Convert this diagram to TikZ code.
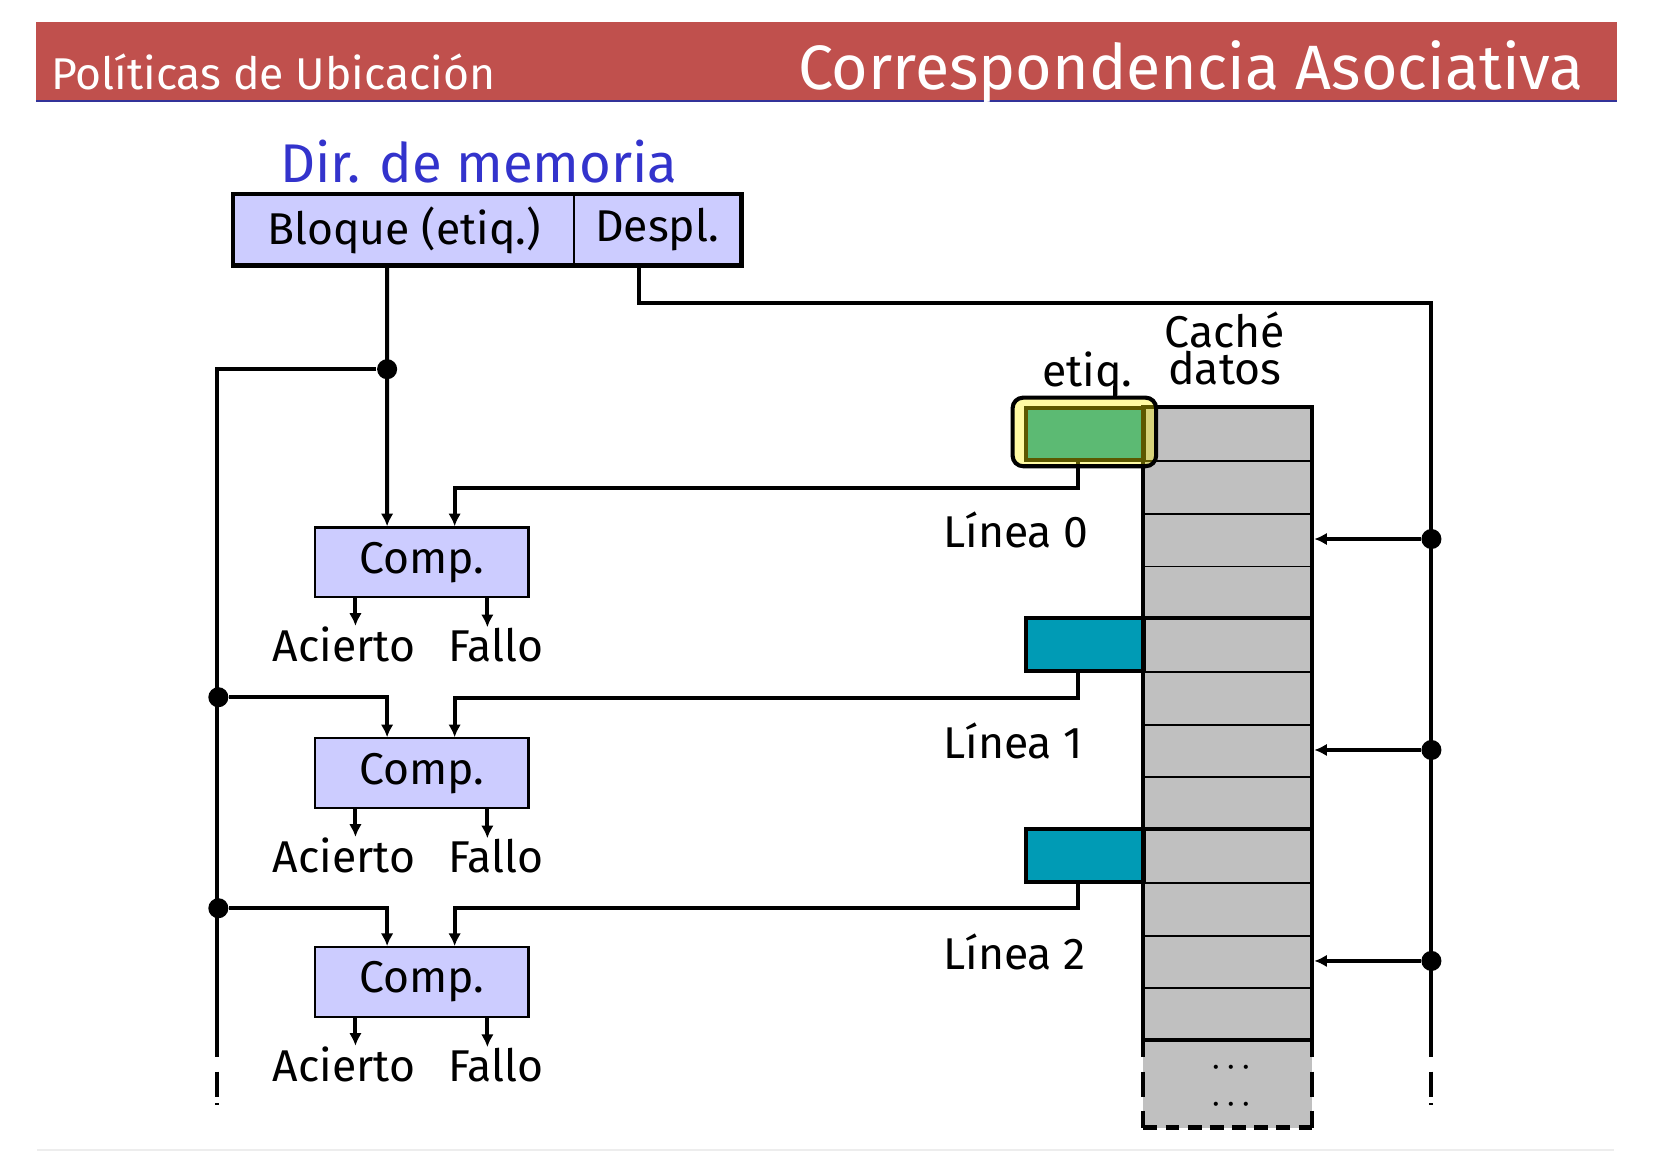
\documentclass[tikz,border=0pt]{standalone}
\usepackage{fontspec}
\setmainfont{Fira Sans}
\usetikzlibrary{arrows.meta}

\definecolor{barred}{RGB}{192,80,77}
\definecolor{barline}{RGB}{51,51,153}
\definecolor{dirblue}{RGB}{51,51,204}
\definecolor{lilac}{RGB}{204,204,255}
\definecolor{tagteal}{RGB}{0,155,181}
\definecolor{cachegray}{RGB}{192,192,192}

\begin{document}
\begin{tikzpicture}
        [x=0.01cm, y=-0.01cm, inner sep=0pt,
        wire/.style={line width=1.1pt, black},
        flow/.style={wire, -{Latex[length=1.2mm, width=1.2mm]}},
        field/.style={draw, line width=0.6pt, fill=lilac, minimum height=0.66cm, font=\fontsize{12}{14}\selectfont},
        comp/.style={draw, line width=0.6pt, fill=lilac, minimum width=2.02cm, minimum height=0.66cm, font=\fontsize{12}{14}\selectfont},
        tag/.style={draw, line width=1.1pt, fill=tagteal, minimum width=1.11cm, minimum height=0.5cm},
        joint/.style={circle, fill=black, minimum size=0.19cm},
        lbl/.style={font=\fontsize{12}{14}\selectfont},
        row/.style={line width=0.5pt, black},
        rowbig/.style={line width=1.1pt, black}]

        \useasboundingbox (0,0) rectangle (1568,1092);

        % header bar
        \fill[barred] (34,21) rectangle (1533,95);
        \draw[barline, line width=0.6pt] (34,96) -- (1533,96);
        \node[anchor=base west, text=white, font=\fontsize{12}{14}\selectfont] (place) at (48,85) {Políticas de Ubicación};
        \node[anchor=base east, text=white, font=\fontsize{16.9}{20}\selectfont] (title) at (1502,85) {Correspondencia Asociativa};

        % memory address
        \node[anchor=base, text=dirblue, font=\fontsize{14.7}{17}\selectfont] (addr) at (454,173) {Dir. de memoria};
        \node[field, minimum width=3.22cm] (blq) at (383,218) {Bloque (etiq.)};
        \node[field, minimum width=1.58cm] (dsp) at (623,218) {Despl.};
        \draw[line width=1.3pt] (blq.north west) rectangle (dsp.south east);

        % comparators
        \node[comp] (comp0) at (400,533) {Comp.};
        \node[comp] (comp1) at (400,733) {Comp.};
        \node[comp] (comp2) at (400,931) {Comp.};

        \node[lbl, anchor=base] (hit0) at (326,627) {Acierto};
        \node[lbl, anchor=base] (miss0) at (470,627) {Fallo};
        \node[lbl, anchor=base] (hit1) at (326,827) {Acierto};
        \node[lbl, anchor=base] (miss1) at (470,827) {Fallo};
        \node[lbl, anchor=base] (hit2) at (326,1025) {Acierto};
        \node[lbl, anchor=base] (miss2) at (470,1025) {Fallo};

        \draw[flow] ([xshift=-0.63cm]comp0.south) -- ([xshift=-0.63cm]comp0.south |- hit0.north);
        \draw[flow] ([xshift=0.62cm]comp0.south) -- ([xshift=0.62cm]comp0.south |- miss0.north);
        \draw[flow] ([xshift=-0.63cm]comp1.south) -- ([xshift=-0.63cm]comp1.south |- hit1.north);
        \draw[flow] ([xshift=0.62cm]comp1.south) -- ([xshift=0.62cm]comp1.south |- miss1.north);
        \draw[flow] ([xshift=-0.63cm]comp2.south) -- ([xshift=-0.63cm]comp2.south |- hit2.north);
        \draw[flow] ([xshift=0.62cm]comp2.south) -- ([xshift=0.62cm]comp2.south |- miss2.north);

        % cache: dashed tail first, then the lines
        \fill[cachegray] (1084,986) rectangle (1244,1069);
        \draw[wire, dash pattern=on 0.16cm off 0.14cm on 0.24cm off 0.13cm] (1084,986) -- (1084,1069);
        \draw[wire, dash pattern=on 0.16cm off 0.14cm on 0.24cm off 0.13cm] (1244,986) -- (1244,1069);
        \draw[line width=1.4pt, dash pattern=on 0.13cm off 0.08cm] (1084,1069) -- (1244,1069);
        \node[font=\fontsize{8}{8}\selectfont] (more0) at (1167,1015) {· · ·};
        \node[font=\fontsize{8}{8}\selectfont] (more1) at (1167,1050) {· · ·};

        \node[draw, line width=1.1pt, fill=cachegray, minimum width=1.6cm, minimum height=6cm] (cache) at (1164,686) {};
        \draw[row] (1084,437) -- (1244,437) (1084,487) -- (1244,487) (1084,537) -- (1244,537)
                   (1084,637) -- (1244,637) (1084,687) -- (1244,687) (1084,737) -- (1244,737)
                   (1084,837) -- (1244,837) (1084,887) -- (1244,887) (1084,937) -- (1244,937);
        \draw[rowbig] (1084,586) -- (1244,586) (1084,786) -- (1244,786);

        \node[lbl, align=center, anchor=south, font=\fontsize{12}{10}\selectfont] (cachelbl) at (1161,366) {Caché\\datos};

        % tags
        \node[tag] (tag0) at (1028.5,411.5) {};
        \node[tag] (tag1) at (1028.5,611) {};
        \node[tag] (tag2) at (1028.5,811) {};

        \node[lbl, anchor=base west] (line0) at (894,519) {Línea 0};
        \node[lbl, anchor=base west] (line1) at (894,719) {Línea 1};
        \node[lbl, anchor=base west] (line2) at (894,919) {Línea 2};

        \draw[flow] ([xshift=-0.065cm]tag0.south) -- ++(0,24) -| ([xshift=0.31cm]comp0.north);
        \draw[flow] ([xshift=-0.065cm]tag1.south) -- ++(0,24) -| ([xshift=0.31cm]comp1.north);
        \draw[flow] ([xshift=-0.065cm]tag2.south) -- ++(0,23) -| ([xshift=0.31cm]comp2.north);

        % highlighted tag of line 0
        \node[draw, line width=1.1pt, rounded corners=0.1cm, fill=yellow, fill opacity=0.36,
              minimum width=1.36cm, minimum height=0.65cm] (hl) at (1028,409.5) {};
        \node[lbl, anchor=base] (etq) at (1031,366) {etiq.};
        \draw[wire] ([xshift=0.26cm]etq.base) -- ([xshift=0.26cm]etq.base |- hl.north);

        % left bus (block number)
        \node[joint] (j0) at (367,350) {};
        \node[joint] (j1) at (207,661) {};
        \node[joint] (j2) at (207,861) {};
        \coordinate (lt) at (206,350);
        \coordinate (lb) at (206,1002);

        \draw[flow] ([xshift=-0.16cm]blq.south) -- ([xshift=-0.33cm]comp0.north);
        \draw[wire] (j0) -- (lt) -- (lb);
        \draw[wire, dash pattern=on 0pt off 0.14cm on 0.24cm off 0.06cm on 0.03cm off 1cm] (lb) -- ++(0,46);
        \draw[flow] (j1) -| ([xshift=-0.33cm]comp1.north);
        \draw[flow] (j2) -| ([xshift=-0.33cm]comp2.north);

        % right bus (offset)
        \node[joint] (k0) at (1357,511) {};
        \node[joint] (k1) at (1357,711) {};
        \node[joint] (k2) at (1357,911) {};
        \coordinate (rt) at (1357,287);
        \coordinate (rb) at (1357,1002);

        \draw[wire] ([xshift=-0.17cm]dsp.south) |- (rt) -- (rb);
        \draw[wire, dash pattern=on 0pt off 0.14cm on 0.24cm off 0.06cm on 0.03cm off 1cm] (rb) -- ++(0,46);
        \draw[flow] (k0) -- (k0 -| cache.east);
        \draw[flow] (k1) -- (k1 -| cache.east);
        \draw[flow] (k2) -- (k2 -| cache.east);

        % faint slide edge
        \draw[black!7, line width=0.5pt] (35,1090) -- (1530,1090);
    \end{tikzpicture}
\end{document}
